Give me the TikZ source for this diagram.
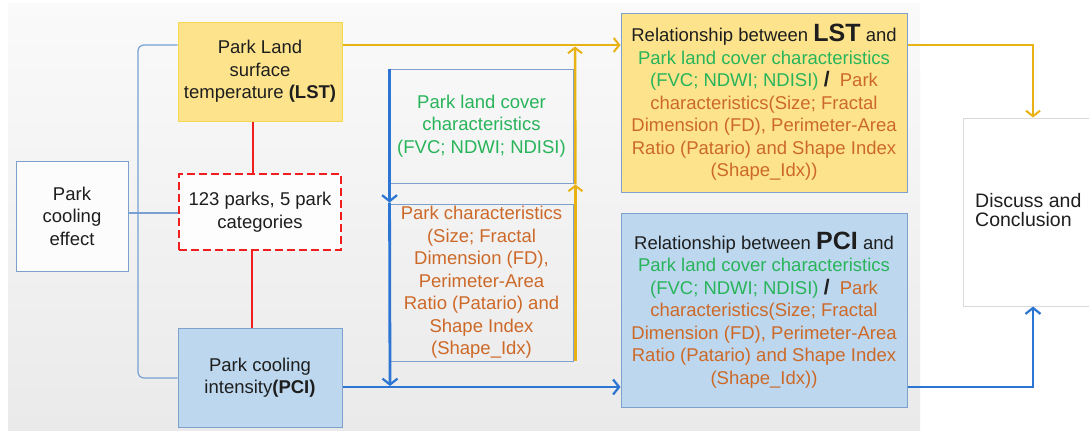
\documentclass[tikz,border=0pt]{standalone}
\usepackage{fontspec}
\setmainfont{Liberation Sans}
\usetikzlibrary{arrows.meta,calc}
\definecolor{txt}{RGB}{30,30,30}
\definecolor{grn}{RGB}{40,180,90}
\definecolor{org}{RGB}{205,105,40}
\definecolor{ylw}{RGB}{232,178,20}
\definecolor{blu}{RGB}{45,117,210}
\definecolor{thinb}{RGB}{120,160,210}
\definecolor{bluebd}{RGB}{125,160,205}
\definecolor{yfill}{RGB}{253,228,140}
\definecolor{ybd}{RGB}{245,215,80}
\definecolor{bfill}{RGB}{189,215,238}
\definecolor{redd}{RGB}{240,30,30}
\definecolor{bgtop}{RGB}{250,250,250}
\definecolor{bgbot}{RGB}{234,234,234}
\tikzset{
  base/.style={font=\fontsize{18.5}{22.5}\selectfont, text=txt, align=center, inner sep=0pt},
  box/.style={base, draw, line width=1pt},
  midbox/.style={box, draw=bluebd, line width=0.9pt},
  ytip/.style={-{Straight Barb[length=5.5pt,width=14pt,line width=2pt]}},
  yline/.style={draw=ylw, line width=2.5pt, ytip},
  bline/.style={draw=blu, line width=2.8pt, -{Straight Barb[length=6pt,width=15pt,line width=2.2pt]}},
  brk/.style={draw=thinb, line width=1.2pt, rounded corners=6pt},
  redl/.style={draw=redd, line width=2pt},
}
\begin{document}
\begin{tikzpicture}[x=1pt,y=-1pt]
\useasboundingbox (0,0) rectangle (1089,432);
\clip (0,0) rectangle (1089,432);
\fill[white] (0,0) rectangle (1089,432);
\shade[top color=bgtop, bottom color=bgbot] (8,3) rectangle (920,430);

% left column
\node[box, draw=bluebd, fill=white!50!bgtop, minimum width=112, minimum height=110] (eff) at (72,216) {Park\\cooling\\effect};
\node[box, draw=ybd, fill=yfill, minimum width=164, minimum height=99] (lst) at (260,71.5) {Park Land\\surface\\temperature \textbf{(LST)}};
\node[box, draw=redd, dashed, dash pattern=on 8pt off 4pt, line width=2.2pt, fill=white!60!bgtop, minimum width=162, minimum height=76] (parks) at (260,212) {123 parks, 5 park\\categories};
\node[box, draw=bluebd, fill=bfill, minimum width=164, minimum height=99] (pci) at (260,377.5) {Park cooling\\intensity\textbf{(PCI)}};

% middle column
\node[midbox, minimum width=183, minimum height=114] (lc) at (481.5,126) {\color{grn}Park land cover\\\color{grn}characteristics\\\color{grn}(FVC; NDWI; NDISI)};
\node[midbox, minimum width=183, minimum height=157] (pc) at (481.5,282.5) {\color{org}Park characteristics\\\color{org}(Size; Fractal\\\color{org}Dimension (FD),\\\color{org}Perimeter-Area\\\color{org}Ratio (Patario) and\\\color{org}Shape Index\\\color{org}(Shape\_Idx)};

% relationship boxes
\node[box, draw=bluebd, fill=yfill, minimum width=286, minimum height=179] (rl) at (764,102.5) {Relationship between {\fontsize{25}{22.5}\selectfont\bfseries LST} and\\
{\color{grn}Park land cover characteristics}\\
{\color{grn}(FVC; NDWI; NDISI)} {\fontsize{21}{22.5}\selectfont\bfseries /} \ {\color{org}Park}\\
{\color{org}characteristics(Size; Fractal}\\
{\color{org}Dimension (FD), Perimeter-Area}\\
{\color{org}Ratio (Patario) and Shape Index}\\
{\color{org}(Shape\_Idx))}};
\node[box, draw=bluebd, fill=bfill, minimum width=286, minimum height=194] (rp) at (764,310) {Relationship between {\fontsize{25}{22.5}\selectfont\bfseries PCI} and\\
{\color{grn}Park land cover characteristics}\\
{\color{grn}(FVC; NDWI; NDISI)} {\fontsize{21}{22.5}\selectfont\bfseries /} \ {\color{org}Park}\\
{\color{org}characteristics(Size; Fractal}\\
{\color{org}Dimension (FD), Perimeter-Area}\\
{\color{org}Ratio (Patario) and Shape Index}\\
{\color{org}(Shape\_Idx))}};

% discuss box
\node[box, draw=black!15, fill=white, minimum width=140, minimum height=188] (dc) at (1033,212) {};
\node[base, align=left, anchor=west, font=\fontsize{19.5}{19}\selectfont] (dct) at (975,210) {Discuss and\\Conclusion};

% bracket lines
\draw[brk] (lst.west |- 0,45) -- (138,45) -- (138,378) -- (pci.west |- 0,378);
\draw[brk] (eff.east |- 0,213) -- (parks.west |- 0,213);

% red links
\draw[redl] (lst.south -| 253,0) -- (parks.north -| 253,0);
\draw[redl] (parks.south -| 252,0) -- (pci.north -| 252,0);

% yellow connectors
\coordinate (ybot) at ($(pc.south east)+(2,0)$);
\coordinate (ymid) at ($(lc.south east)+(2,1)$);
\coordinate (ytop) at (575,46.5);
\draw[yline] (lst.east |- 0,45) -- (rl.west |- 0,45);
\draw[yline] (ybot) -- (ymid);
\draw[yline] (ymid) -- (ytop);
\draw[yline] (rl.east |- 0,45) -| (dc.north);

% blue connectors
\coordinate (btop) at (lc.north west);
\coordinate (bmid) at ($(pc.north west)+(0,-1)$);
\coordinate (bbot) at (390,386);
\draw[bline] (btop) -- (bmid);
\draw[bline] (bmid) -- (bbot);
\draw[bline] (pci.east |- 0,387) -- (rp.west |- 0,387);
\draw[bline] (rp.east |- 0,387) -| (dc.south);
\end{tikzpicture}
\end{document}
